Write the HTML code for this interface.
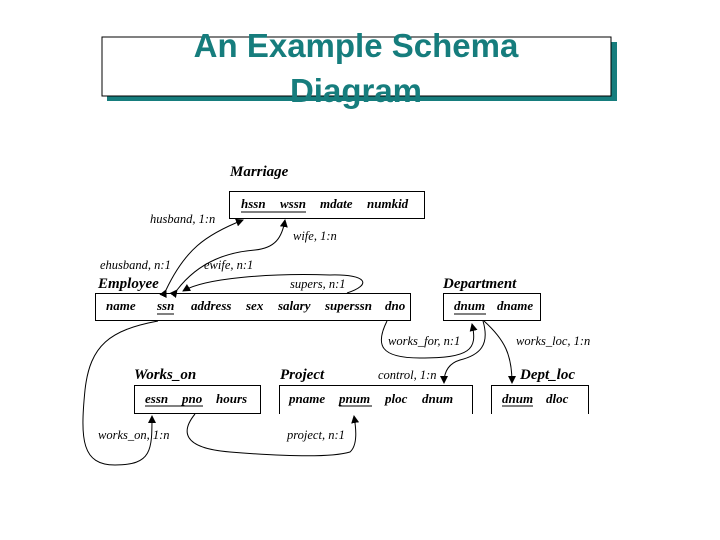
<!DOCTYPE html>
<html><head><meta charset="utf-8"><style>
html,body{margin:0;padding:0;background:#fff;}
svg{display:block}
.f{font-family:"Liberation Serif",serif;font-style:italic;font-weight:bold;font-size:13px;fill:#000}
.t{font-family:"Liberation Serif",serif;font-style:italic;font-weight:bold;font-size:15px;fill:#000}
.l{font-family:"Liberation Serif",serif;font-style:italic;font-size:12.5px;fill:#000}
.h{font-family:"Liberation Sans",sans-serif;font-weight:bold;font-size:33px;fill:#167d7d}
</style></head><body>
<svg width="720" height="540" viewBox="0 0 720 540">
<defs><marker id="a" markerWidth="8" markerHeight="8" refX="7" refY="4" orient="auto" markerUnits="userSpaceOnUse"><path d="M0,0 L8,4 L0,8 z" fill="#000"/></marker></defs>
<rect x="107" y="42" width="510" height="59" fill="#167d7d"/>
<rect x="102" y="37" width="509" height="59" fill="#fff" stroke="#000" stroke-width="1"/>
<text class="h" x="356" y="57" text-anchor="middle">An Example Schema</text>
<text class="h" x="356" y="102" text-anchor="middle">Diagram</text>
<g fill="none" stroke="#000" stroke-width="1">
<rect x="229.5" y="191.5" width="195" height="27"/>
<rect x="95.5" y="293.5" width="315" height="27"/>
<rect x="443.5" y="293.5" width="97" height="27"/>
<rect x="134.5" y="385.5" width="126" height="28"/>
<path d="M279.5,414 V385.5 H472.5 V414"/>
<path d="M491.5,414 V385.5 H588.5 V414"/>
<path d="M241,212 H306 M157,314 H174 M454,314 H486 M145,406 H203 M339,406 H372 M502,406 H533"/>
<path d="M166,290 C185,250 205,235 243,220" marker-start="url(#a)" marker-end="url(#a)"/>
<path d="M177,290 C200,260 230,252 255,250 C275,248 282,238 285,220" marker-start="url(#a)" marker-end="url(#a)"/>
<path d="M347,293 C372,285 368,274 330,275 C270,273 205,278 183,291" marker-end="url(#a)"/>
<path d="M387,321 C375,345 380,358 420,358 C470,358 478,350 472,324" marker-end="url(#a)"/>
<path d="M483,321 C490,345 480,355 460,360 C450,363 444,370 444,383" marker-end="url(#a)"/>
<path d="M484,321 C505,340 512,355 512,383" marker-end="url(#a)"/>
<path d="M158,321 C110,330 90,345 85,390 C80,440 82,465 115,465 C152,465 152,450 152,416" marker-end="url(#a)"/>
<path d="M195,414 C182,430 180,448 230,452 C280,456 330,458 350,452 C358,445 356,428 354,416" marker-end="url(#a)"/>
</g>
<text class="t" x="230" y="176">Marriage</text>
<text class="f" x="241" y="208">hssn</text><text class="f" x="280" y="208">wssn</text><text class="f" x="320" y="208">mdate</text><text class="f" x="367" y="208">numkid</text>
<text class="t" x="98" y="288">Employee</text>
<text class="f" x="106" y="310">name</text><text class="f" x="157" y="310">ssn</text><text class="f" x="191" y="310">address</text><text class="f" x="246" y="310">sex</text><text class="f" x="278" y="310">salary</text><text class="f" x="325" y="310">superssn</text><text class="f" x="385" y="310">dno</text>
<text class="t" x="443" y="288">Department</text>
<text class="f" x="454" y="310">dnum</text><text class="f" x="497" y="310">dname</text>
<text class="t" x="134" y="379">Works_on</text>
<text class="f" x="145" y="403">essn</text><text class="f" x="182" y="403">pno</text><text class="f" x="216" y="403">hours</text>
<text class="t" x="280" y="379">Project</text>
<text class="f" x="289" y="403">pname</text><text class="f" x="339" y="403">pnum</text><text class="f" x="385" y="403">ploc</text><text class="f" x="422" y="403">dnum</text>
<text class="t" x="520" y="379">Dept_loc</text>
<text class="f" x="502" y="403">dnum</text><text class="f" x="546" y="403">dloc</text>
<text class="l" x="150" y="223">husband, 1:n</text>
<text class="l" x="293" y="240">wife, 1:n</text>
<text class="l" x="100" y="269">ehusband, n:1</text>
<text class="l" x="204" y="269">ewife, n:1</text>
<text class="l" x="290" y="288">supers, n:1</text>
<text class="l" x="388" y="345">works_for, n:1</text>
<text class="l" x="516" y="345">works_loc, 1:n</text>
<text class="l" x="378" y="379">control, 1:n</text>
<text class="l" x="98" y="439">works_on, 1:n</text>
<text class="l" x="287" y="439">project, n:1</text>
</svg>
</body></html>
